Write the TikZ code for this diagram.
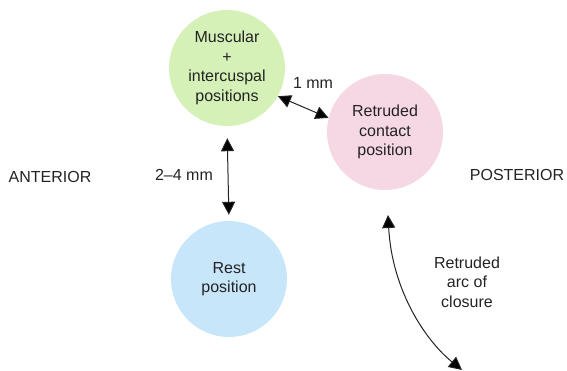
\documentclass[tikz,border=0pt]{standalone}
\usepackage{fontspec}
\setmainfont{Liberation Sans}
\usepackage{xcolor}
\usepackage{tikz}
\usetikzlibrary{arrows.meta,positioning,calc}

\definecolor{muscgreen}{RGB}{214,241,184}
\definecolor{retrpink}{RGB}{246,216,228}
\definecolor{restblue}{RGB}{200,230,250}
\definecolor{inkgray}{RGB}{35,35,35}

\begin{document}
\begin{tikzpicture}[
    x=1pt, y=-1pt,
    posnode/.style={circle, draw=none, minimum size=116pt, inner sep=0pt, align=center, text=inkgray, font=\fontsize{16}{19.5}\selectfont},
    lbl/.style={align=center, text=inkgray, inner sep=0pt, font=\fontsize{16}{19.5}\selectfont},
    arrow/.style={{Triangle[length=13pt,width=13pt,fill=black]}-{Triangle[length=13pt,width=13pt,fill=black]}, draw=inkgray, line width=1pt}
]
\useasboundingbox (0,0) rectangle (567,371);
\node[posnode, fill=muscgreen] (musc) at (227,68) {Muscular\\+\\intercuspal\\positions};
\node[posnode, fill=retrpink] (retr) at (385,132) {Retruded\\contact\\position};
\node[posnode, fill=restblue] (rest) at (229,279) {Rest\\position};
\node[lbl] (ant) at (50,177) {ANTERIOR};
\node[lbl] (post) at (517,175) {POSTERIOR};
\node[lbl] (onemm) at (313,83) {1 mm};
\node[lbl] (twomm) at (184,175) {2--4 mm};
\node[lbl] (arclbl) at (467,282) {Retruded\\arc of\\closure};
\coordinate (arctop) at (388,215);
\coordinate (arcbot) at (462,370);
\draw[arrow] (musc.-29) -- (retr.166);
\draw[arrow, shorten <=12pt, shorten >=6pt] (musc.south) -- (rest.north);
\draw[arrow] (arctop) .. controls (392,290) and (425,340) .. (arcbot);
\end{tikzpicture}
\end{document}
